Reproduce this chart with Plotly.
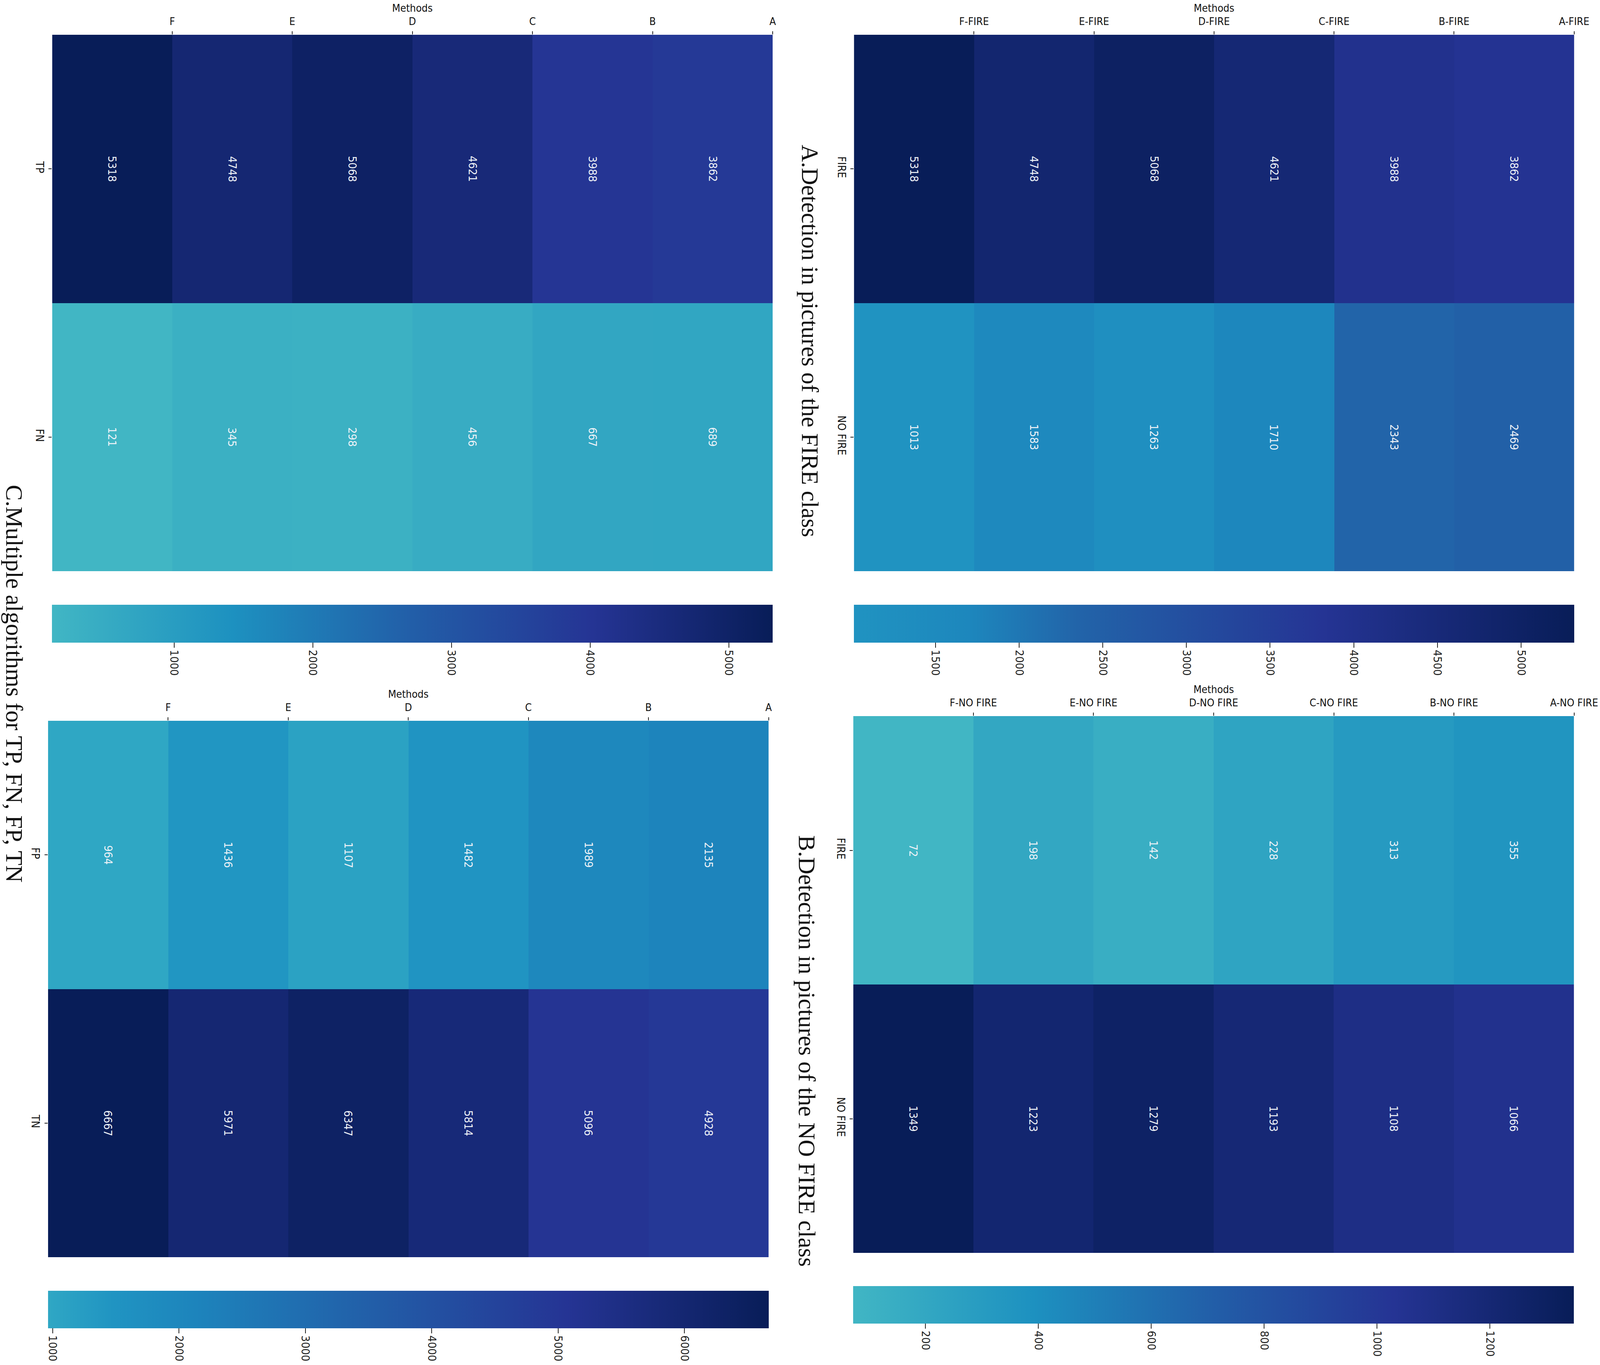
import plotly.graph_objects as go

W, H = 4328, 3494

methods_a = ["F", "E", "D", "C", "B", "A"]
methods_b = ["F-FIRE", "E-FIRE", "D-FIRE", "C-FIRE", "B-FIRE", "A-FIRE"]
methods_c = ["F-NO FIRE", "E-NO FIRE", "D-NO FIRE", "C-NO FIRE", "B-NO FIRE", "A-NO FIRE"]
edges = [0, 1, 2, 3, 4, 5, 6]

rows_tl = ["TP", "FN"]
tp = [5318, 4748, 5068, 4621, 3988, 3862]
fn = [121, 345, 298, 456, 667, 689]

rows_fire = ["FIRE", "NO FIRE"]
fire_fire = [5318, 4748, 5068, 4621, 3988, 3862]
fire_nofire = [1013, 1583, 1263, 1710, 2343, 2469]

rows_bl = ["FP", "TN"]
fp = [964, 1436, 1107, 1482, 1989, 2135]
tn = [6667, 5971, 6347, 5814, 5096, 4928]

nofire_fire = [72, 198, 142, 228, 313, 355]
nofire_nofire = [1349, 1223, 1279, 1193, 1108, 1066]

ticks_tl = [1000, 2000, 3000, 4000, 5000]
ticks_tr = [1500, 2000, 2500, 3000, 3500, 4000, 4500, 5000]
ticks_bl = [1000, 2000, 3000, 4000, 5000, 6000]
ticks_br = [200, 400, 600, 800, 1000, 1200]

titles = ["A.Detection in pictures of the FIRE class",
          "B.Detection in pictures of the NO FIRE class",
          "C.Multiple algorithms for TP, FN, FP, TN"]

full_scale = [[0, "#41b6c4"], [0.25, "#1d91c0"], [0.5, "#225ea8"], [0.75, "#253494"], [1, "#081d58"]]
cut_scale = [[0, "#2093c1"], [0.16, "#1d87bd"], [0.31, "#2264a9"], [0.65, "#253494"], [1, "#081d58"]]
bl_scale = [[0, "#2fa7c4"], [0.09, "#2094c2"], [0.205, "#1d84bc"], [0.45, "#225ea8"], [0.72, "#253494"], [1, "#081d58"]]

SANS = "DejaVu Sans Condensed, DejaVu Sans, sans-serif"
SERIF = "Liberation Serif, Times New Roman, serif"

panels = [
    dict(px=(141, 2090), py=(89, 1462), cb=(1548, 1645), rows=rows_tl, z=[tp, fn], labels=methods_a,
         ticks=ticks_tl, scale=full_scale),
    dict(px=(2310, 4258), py=(89, 1462), cb=(1548, 1645), rows=rows_fire, z=[fire_fire, fire_nofire], labels=methods_b,
         ticks=ticks_tr, scale=cut_scale),
    dict(px=(130, 2079), py=(1845, 3218), cb=(3304, 3400), rows=rows_bl, z=[fp, tn], labels=methods_a,
         ticks=ticks_bl, scale=bl_scale),
    dict(px=(2308, 4258), py=(1833, 3207), cb=(3292, 3388), rows=rows_fire, z=[nofire_fire, nofire_nofire], labels=methods_c,
         ticks=ticks_br, scale=full_scale),
]

fig = go.Figure()
annotations = []
layout = {}
for i, p in enumerate(panels, start=1):
    xn, yn = f"x{i}", f"y{i}"
    fig.add_trace(go.Heatmap(
        x=edges, y=p["rows"], z=p["z"], xaxis=xn, yaxis=yn, colorscale=p["scale"],
        zmin=min(min(r) for r in p["z"]), zmax=max(max(r) for r in p["z"]),
        hoverinfo="z",
        colorbar=dict(orientation="h", x=p["px"][0] / W, xanchor="left", y=1 - p["cb"][0] / H, yanchor="top",
                      len=(p["px"][1] - p["px"][0]) / W, lenmode="fraction", thickness=p["cb"][1] - p["cb"][0],
                      thicknessmode="pixels", xpad=0, ypad=0, outlinewidth=0, ticks="outside", ticklen=13,
                      tickwidth=2, tickcolor="#222222", tickvals=p["ticks"], tickangle=90,
                      tickfont=dict(family=SANS, size=29, color="#222222")),
    ))
    layout[f"xaxis{i}"] = dict(domain=[p["px"][0] / W, p["px"][1] / W], anchor=yn, side="top", range=[0, 6],
                               tickmode="array", tickvals=edges[1:], ticktext=p["labels"], ticks="outside", ticklen=8,
                               tickwidth=2, tickcolor="#222222", showgrid=False, zeroline=False, showline=False,
                               tickangle=0, ticklabelstandoff=5, tickfont=dict(family=SANS, size=27, color="#111111"),
                               title=dict(text="Methods", font=dict(family=SANS, size=27, color="#111111"), standoff=0))
    layout[f"yaxis{i}"] = dict(domain=[1 - p["py"][1] / H, 1 - p["py"][0] / H], anchor=xn, autorange="reversed",
                               type="category", ticks="outside", ticklen=8, tickwidth=2, tickcolor="#222222",
                               showgrid=False, zeroline=False, showline=False, tickangle=90, ticklabelstandoff=-1,
                               tickfont=dict(family=SANS, size=28, color="#111111"))
    for r, row in enumerate(p["z"]):
        for c, v in enumerate(row):
            annotations.append(dict(x=edges[c] + 0.5, y=p["rows"][r], xref=xn, yref=yn, text=str(v), showarrow=False,
                                    textangle=90, font=dict(family=SANS, size=29, color="#eef2f7")))

title_pos = [(2191, 873), (2183, 2691), (39, 1750)]
for t, (tx, ty) in zip(titles, title_pos):
    annotations.append(dict(x=tx / W, y=1 - ty / H, xref="paper", yref="paper", text=t, showarrow=False, textangle=90,
                            xanchor="center", yanchor="middle", font=dict(family=SERIF, size=61, color="#111111")))

fig.update_layout(autosize=True, margin=dict(l=0, r=0, t=0, b=0, autoexpand=False), paper_bgcolor="white",
                  plot_bgcolor="white", annotations=annotations, **layout)
fig.write_html("out.html", default_width="100vw", default_height="100vh", config={"displayModeBar": False},
               post_script="document.body.style.margin='0';document.documentElement.style.overflow='hidden';Plotly.Plots.resize(document.querySelector('.plotly-graph-div'));")
